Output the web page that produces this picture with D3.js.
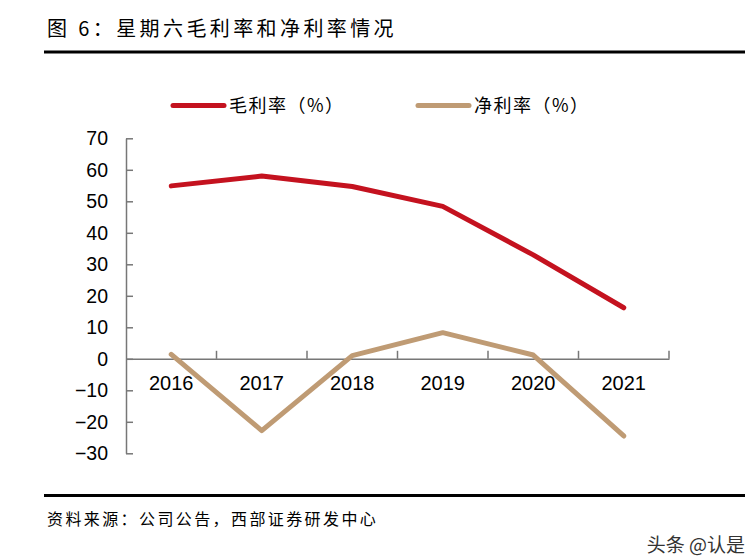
<!DOCTYPE html>
<html><head><meta charset="utf-8">
<script src="https://cdn.jsdelivr.net/npm/d3@7"></script>
<style>body{margin:0;background:#fff}svg{display:block}</style>
</head><body>
<svg id="c" width="752" height="558"></svg>
<script>
const years = ["2016","2017","2018","2019","2020","2021"];
const grossMargin = [54.9, 58.0, 54.7, 48.4, 33.0, 16.2];
const netMargin = [1.4, -22.8, 1.0, 8.3, 1.2, -24.5];
const yTicks = [70,60,50,40,30,20,10,0,-10,-20,-30];
const seriesNames = ["毛利率（%）","净利率（%）"];
const colors = ["#C4121F","#BF9B74"];

const svg = d3.select("#c");
const sans = "'Liberation Sans', Arial, sans-serif";
const cjk = "'Noto Sans CJK SC', sans-serif";

// title
svg.append("text").attr("x",47).attr("y",36).attr("font-family",cjk).attr("font-size",20)
  .attr("letter-spacing",3.4).attr("fill","#000").text("图 6：星期六毛利率和净利率情况");
svg.append("line").attr("x1",44).attr("x2",745).attr("y1",52).attr("y2",52).attr("stroke","#000").attr("stroke-width",3);

const x0 = 126, x1 = 669;
const y = d3.scaleLinear().domain([-30,70]).range([453.3,138.3]);
const x = d3.scaleBand().domain(years).range([x0,x1]);

// y axis
const ya = svg.append("g").attr("transform",`translate(${x0},0)`)
  .call(d3.axisLeft(y).tickValues(yTicks).tickSizeInner(-7).tickSizeOuter(0).tickPadding(18));
ya.select(".domain").attr("stroke","#777").attr("stroke-width",1.5);
ya.selectAll(".tick line").attr("stroke","#777").attr("stroke-width",1.5);
ya.selectAll(".tick text").attr("font-family",sans).attr("font-size",19.5).attr("fill","#000");

// x axis at zero
const xa = svg.append("g").attr("transform",`translate(0,${y(0)})`)
  .call(d3.axisTop(x).tickSize(0).tickFormat(""));
xa.select(".domain").attr("stroke","#777").attr("stroke-width",1.5);
xa.selectAll(".tick").remove();
const bounds = years.map(d=>x(d)).concat([x1]);
svg.append("g").selectAll("line").data(bounds.slice(1)).join("line")
  .attr("x1",d=>d).attr("x2",d=>d).attr("y1",y(0)).attr("y2",y(0)-8)
  .attr("stroke","#777").attr("stroke-width",1.5);
svg.append("g").selectAll("text").data(years).join("text")
  .attr("x",d=>x(d)+x.bandwidth()/2).attr("y",y(0)+31).attr("text-anchor","middle")
  .attr("font-family",sans).attr("font-size",20).attr("fill","#000").text(d=>d);

// lines
const line = d3.line().x((d,i)=>x(years[i])+x.bandwidth()/2).y(d=>y(d));
[grossMargin, netMargin].forEach((s,k)=>{
  svg.append("path").datum(s).attr("d",line).attr("fill","none")
    .attr("stroke",colors[k]).attr("stroke-width",5).attr("stroke-linejoin","round").attr("stroke-linecap","round");
});

// legend
const legX = [173, 418];
seriesNames.forEach((n,k)=>{
  svg.append("line").attr("x1",legX[k]).attr("x2",legX[k]+51).attr("y1",105.5).attr("y2",105.5)
    .attr("stroke",colors[k]).attr("stroke-width",5).attr("stroke-linecap","round");
  svg.append("text").attr("x",legX[k]+56).attr("y",112).attr("font-family",cjk).attr("font-size",18)
    .attr("letter-spacing",1.5).attr("fill","#000").text(n);
});

// footer
svg.append("line").attr("x1",44).attr("x2",745).attr("y1",495.5).attr("y2",495.5).attr("stroke","#000").attr("stroke-width",3);
svg.append("text").attr("x",47).attr("y",525).attr("font-family",cjk).attr("font-size",16)
  .attr("letter-spacing",2.4).attr("fill","#000").text("资料来源：公司公告，西部证券研发中心");
svg.append("text").attr("x",745).attr("y",552).attr("text-anchor","end").attr("font-family",cjk).attr("font-size",19).attr("fill","#333").text("头条 @认是");
</script>
</body></html>
